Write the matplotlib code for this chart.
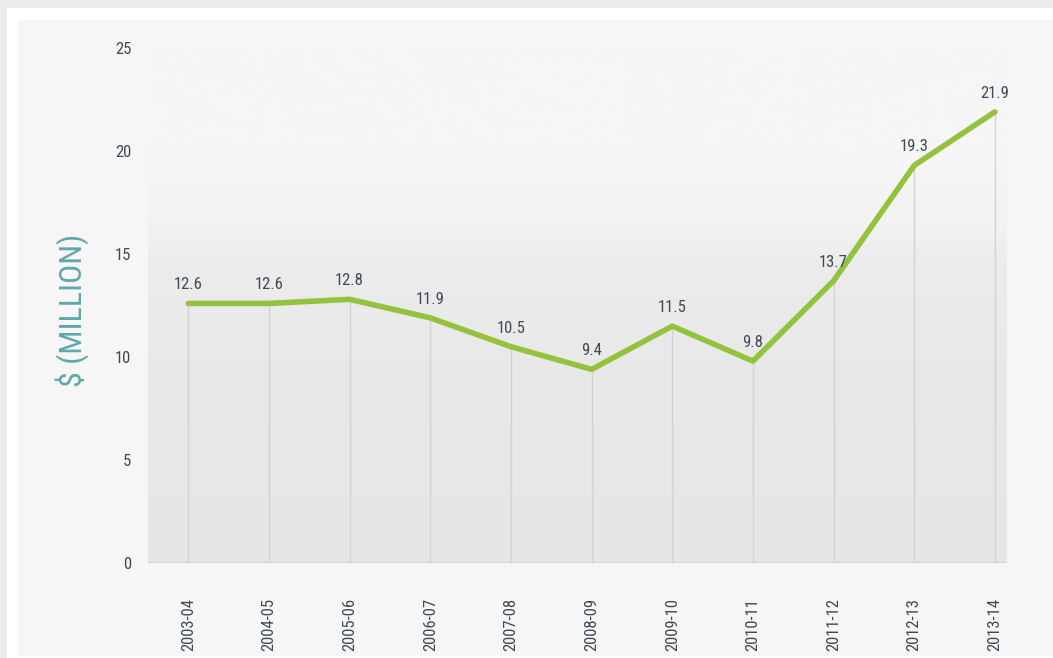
import numpy as np
import matplotlib
matplotlib.use("Agg")
import matplotlib.pyplot as plt
from matplotlib import font_manager
from matplotlib.patches import Rectangle
from matplotlib.colors import LinearSegmentedColormap

# Funding by financial year ($ million)
years = ["2003-04", "2004-05", "2005-06", "2006-07", "2007-08", "2008-09",
         "2009-10", "2010-11", "2011-12", "2012-13", "2013-14"]
values = [12.6, 12.6, 12.8, 11.9, 10.5, 9.4, 11.5, 9.8, 13.7, 19.3, 21.9]
y_ticks = [0, 5, 10, 15, 20, 25]


def pick_font(candidates):
    for name in candidates:
        try:
            font_manager.findfont(font_manager.FontProperties(family=name),
                                  fallback_to_default=False)
            return name
        except Exception:
            continue
    return "DejaVu Sans"


FONT = pick_font(["Liberation Sans Narrow", "Roboto Condensed", "Open Sans Condensed",
                  "DejaVu Sans"])
STRETCH = "condensed" if FONT == "DejaVu Sans" else "normal"

TEXT = "#3d4a55"
GREEN = "#95c23d"
TEAL = "#5fa6ab"

W, H = 1053, 658
fig = plt.figure(figsize=(W / 100, H / 100), dpi=100)
fig.patch.set_facecolor("#ebebeb")

# background card: white frame with a soft inner panel
bg = fig.add_axes([0, 0, 1, 1], zorder=-10)
bg.set_xlim(0, W)
bg.set_ylim(H, 0)
bg.axis("off")
bg.add_patch(Rectangle((7, 8), W, H, facecolor="white", edgecolor="none"))
bg.add_patch(Rectangle((18, 20), W, 656 - 20, facecolor="#f6f6f6", edgecolor="none"))

ax = fig.add_axes([148 / W, 1 - 563 / H, (1007 - 148) / W, (563 - 48) / H], zorder=1)
ax.set_facecolor("none")
x = np.arange(len(years))
xlim = (-0.5, len(years) - 0.85)
ax.set_xlim(*xlim)
ax.set_ylim(0, 25)

# vertical gradient behind the plot
cmap = LinearSegmentedColormap.from_list(
    "bg", [(0.0, "#e6e6e6"), (0.40, "#e9e9e9"), (0.58, "#ececec"),
           (0.66, "#f2f2f2"), (0.80, "#f6f6f6"), (1.0, "#f6f6f6")])
grad = np.linspace(0, 1, 256).reshape(-1, 1)
ax.imshow(grad, cmap=cmap, origin="lower", aspect="auto",
          extent=(xlim[0], xlim[1], 0, 25), zorder=0, interpolation="bicubic")

# drop lines from baseline to each point
ax.vlines(x, 0, values, colors="#d2d2d2", linewidth=1.0, zorder=1)
ax.axhline(0, color="#d4d4d4", linewidth=1.5, zorder=1)

ax.plot(x, values, color=GREEN, linewidth=4.0, solid_capstyle="round",
        solid_joinstyle="round", zorder=3)

for xi, v in zip(x, values):
    ax.annotate(f"{v:.1f}", (xi, v), xytext=(0, 8), textcoords="offset points",
                ha="center", va="bottom", fontsize=12, color=TEXT,
                family=FONT, stretch=STRETCH)

for s in ax.spines.values():
    s.set_visible(False)

ax.set_yticks(y_ticks)
ax.set_yticklabels([str(t) for t in y_ticks], fontsize=12, color=TEXT,
                   family=FONT, stretch=STRETCH)
ax.set_xticks(x)
ax.set_xticklabels(years, rotation=90, fontsize=12, color=TEXT,
                   family=FONT, stretch=STRETCH)
ax.tick_params(axis="y", length=0, pad=12)
ax.tick_params(axis="x", length=0, pad=25)

fig.text(72 / W, 1 - 310 / H, "$ (MILLION)", rotation=90, ha="center", va="center",
         fontsize=23, color=TEAL, family=FONT, stretch=STRETCH)

fig.savefig("out.png", dpi=100, facecolor=fig.get_facecolor())
